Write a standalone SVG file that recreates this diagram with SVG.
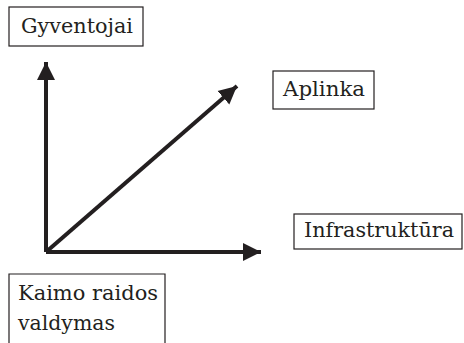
<svg xmlns="http://www.w3.org/2000/svg" width="464" height="343" viewBox="0 0 464 343">
<style>
.box{fill:#fff;stroke:#231f20;stroke-width:1.2}
.lbl{font-family:'DejaVu Serif','Liberation Serif',serif;font-size:21px;fill:#231f20}
.ax{stroke:#231f20;stroke-width:4;fill:none}
</style>
<defs>
<marker id="ah" markerUnits="userSpaceOnUse" markerWidth="20" markerHeight="20" viewBox="0 0 20 20" refX="18" refY="10" orient="auto">
<path d="M0,1 L18,10 L0,19 Z" fill="#231f20"/>
</marker>
</defs>
<rect width="464" height="343" fill="#fff"/>
<g id="connectors">
<line class="ax" x1="46" y1="252" x2="46" y2="62" marker-end="url(#ah)"/>
<line class="ax" x1="46" y1="252" x2="261" y2="252" marker-end="url(#ah)"/>
<line class="ax" x1="46" y1="252" x2="237" y2="86" marker-end="url(#ah)"/>
</g>
<g id="gyventojai">
<rect class="box" x="9" y="7" width="134" height="39"/>
<text class="lbl" x="21" y="33" textLength="112" lengthAdjust="spacingAndGlyphs">Gyventojai</text>
</g>
<g id="aplinka">
<rect class="box" x="273" y="71" width="101" height="38"/>
<text class="lbl" x="283" y="96" textLength="82" lengthAdjust="spacingAndGlyphs">Aplinka</text>
</g>
<g id="infrastruktura">
<rect class="box" x="294" y="214" width="168" height="35"/>
<text class="lbl" x="304" y="237" textLength="150" lengthAdjust="spacingAndGlyphs">Infrastruktūra</text>
</g>
<g id="kaimo">
<path class="box" d="M9,345 V274 H165 V345"/>
<text class="lbl" x="18" y="300" textLength="140" lengthAdjust="spacingAndGlyphs">Kaimo raidos</text>
<text class="lbl" x="18" y="330" textLength="97" lengthAdjust="spacingAndGlyphs">valdymas</text>
</g>
</svg>
